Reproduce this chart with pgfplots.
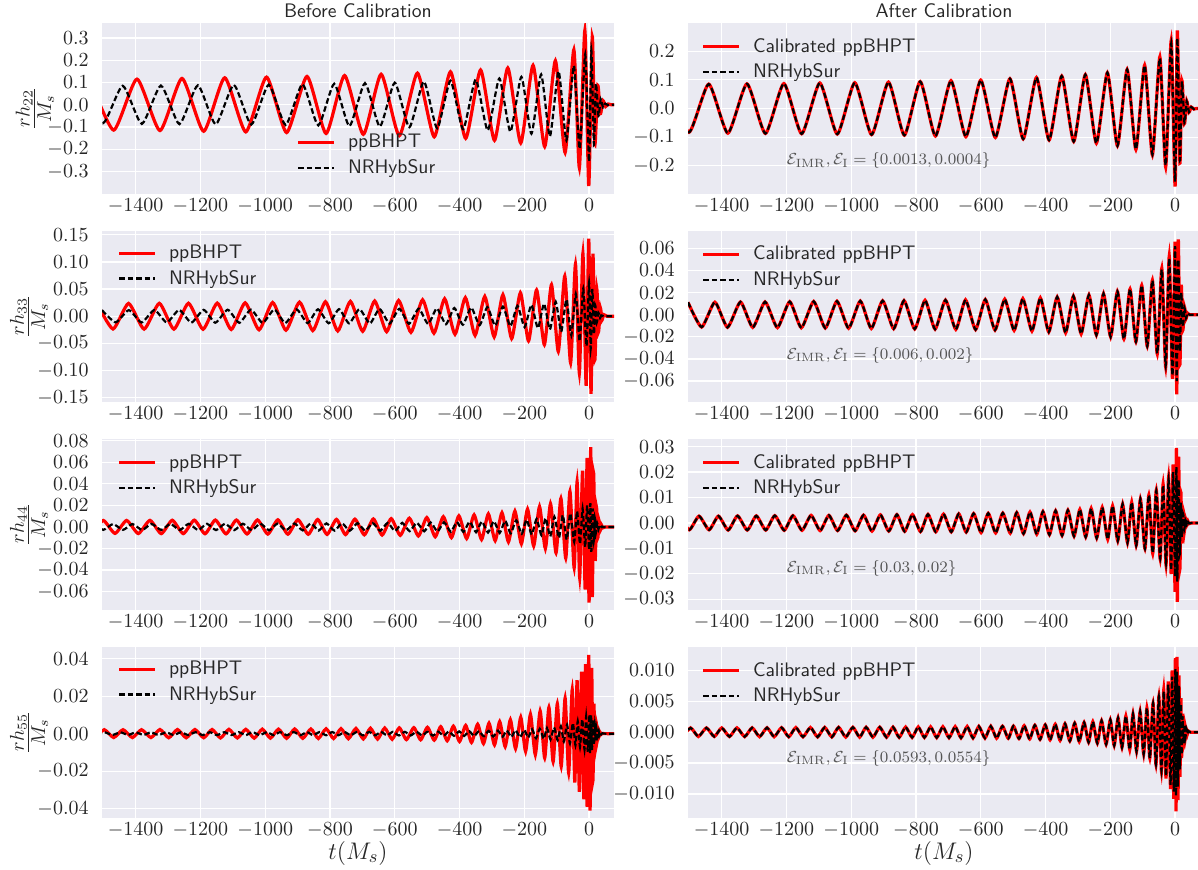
\documentclass[border=0pt]{standalone}
\usepackage{pgfplots}
\usepackage{pgfplotstable}
\pgfplotsset{compat=1.18}
\definecolor{bgc}{HTML}{EAEAF2}
\definecolor{tickc}{HTML}{262626}
\definecolor{annc}{HTML}{555555}

% ---------- l=2 ----------
\pgfplotstableread{
t nr cal
-1561 0.083 0.083
-1501 -0.083 -0.083
-1440 0.085 0.085
-1381 -0.086 -0.086
-1322 0.086 0.086
-1265 -0.087 -0.087
-1208 0.087 0.087
-1153 -0.088 -0.088
-1097 0.089 0.089
-1043 -0.089 -0.089
-989 0.090 0.090
-937 -0.091 -0.091
-885 0.092 0.092
-836 -0.093 -0.093
-787 0.094 0.094
-740 -0.096 -0.096
-692 0.097 0.097
-646 -0.098 -0.098
-600 0.099 0.099
-555 -0.101 -0.101
-510 0.104 0.104
-469 -0.106 -0.106
-428 0.108 0.108
-389 -0.110 -0.110
-350 0.113 0.113
-313 -0.115 -0.115
-277 0.118 0.118
-243 -0.121 -0.121
-209 0.125 0.125
-178 -0.130 -0.130
-148 0.136 0.136
-121 -0.142 -0.143
-94 0.150 0.151
-70 -0.160 -0.162
-47 0.175 0.180
-29 -0.198 -0.204
-12 0.226 0.237
0 -0.255 -0.272
7 0.245 0.272
15 -0.180 -0.190
21 0.095 0.098
29 -0.050 -0.052
36 0.025 0.026
43 -0.012 -0.013
50 0.005 0.005
58 -0.002 -0.002
66 0 0
90 0 0
}\hTwo

\pgfplotstableread{
t pp
-1541 0.113
-1468 -0.114
-1396 0.115
-1325 -0.116
-1257 0.118
-1190 -0.119
-1125 0.121
-1060 -0.122
-996 0.124
-934 -0.125
-871 0.127
-812 -0.129
-755 0.131
-697 -0.133
-642 0.137
-586 -0.139
-530 0.142
-478 -0.144
-428 0.148
-381 -0.151
-335 0.156
-292 -0.160
-251 0.165
-211 -0.172
-173 0.177
-137 -0.188
-104 0.198
-74 -0.215
-47 0.247
-30 -0.283
-13 0.334
-1 -0.365
10 0.305
18 -0.177
27 0.086
35 -0.040
43 0.018
51 -0.008
59 0.003
68 0
90 0
}\hTwoPP

% ---------- l=3 ----------
\pgfplotstableread{
t nr cal
-1504 0.0112 0.0112
-1462 -0.0112 -0.0112
-1421 0.0113 0.0113
-1382 -0.0114 -0.0114
-1342 0.0115 0.0115
-1304 -0.0115 -0.0115
-1266 0.0116 0.0116
-1228 -0.0117 -0.0117
-1190 0.0118 0.0118
-1154 -0.0119 -0.0119
-1116 0.0120 0.0120
-1080 -0.0121 -0.0121
-1044 0.0122 0.0122
-1008 -0.0123 -0.0123
-972 0.0124 0.0124
-938 -0.0125 -0.0125
-903 0.0126 0.0126
-869 -0.0127 -0.0127
-837 0.0128 0.0128
-804 -0.0129 -0.0129
-772 0.0130 0.0130
-741 -0.0131 -0.0131
-709 0.0132 0.0132
-677 -0.0133 -0.0133
-647 0.0134 0.0134
-616 -0.0135 -0.0135
-586 0.0137 0.0137
-556 -0.0139 -0.0139
-526 0.0140 0.0140
-497 -0.0142 -0.0142
-470 0.0145 0.0145
-442 -0.0148 -0.0148
-416 0.0152 0.0152
-390 -0.0156 -0.0156
-364 0.0160 0.0160
-338 -0.0164 -0.0164
-314 0.0168 0.0168
-290 -0.0173 -0.0173
-266 0.0178 0.0178
-243 -0.0183 -0.0183
-221 0.0190 0.0190
-199 -0.0200 -0.0200
-178 0.0210 0.0210
-158 -0.0220 -0.0220
-139 0.0232 0.0232
-121 -0.0245 -0.0245
-103 0.0265 0.0265
-86 -0.0285 -0.0285
-70 0.0310 0.0312
-55 -0.0350 -0.0355
-41 0.0410 0.0420
-29 -0.0460 -0.0475
-18 0.0510 0.0530
-8 -0.0550 -0.0580
0 0.0620 0.0660
5 -0.0600 -0.0720
10 0.0500 0.0680
15 -0.0330 -0.0450
19 0.0200 0.0270
24 -0.0110 -0.0140
29 0.0060 0.0070
34 -0.0030 -0.0035
38 0.0015 0.0015
45 0 0
90 0 0
}\hThree

\pgfplotstableread{
t pp
-1519 0.0235
-1470 -0.0235
-1422 0.0236
-1374 -0.0237
-1327 0.0238
-1282 -0.0238
-1237 0.0239
-1192 -0.0240
-1148 0.0242
-1105 -0.0244
-1062 0.0247
-1019 -0.0250
-977 0.0254
-936 -0.0257
-894 0.0261
-853 -0.0264
-814 0.0267
-776 -0.0271
-737 0.0274
-699 -0.0277
-662 0.0281
-625 -0.0285
-588 0.0290
-550 -0.0296
-514 0.0303
-479 -0.0312
-446 0.0322
-414 -0.0332
-382 0.0342
-352 -0.0353
-322 0.0365
-293 -0.0380
-266 0.0396
-239 -0.0412
-212 0.0432
-187 -0.0455
-162 0.0485
-138 -0.0525
-116 0.0580
-95 -0.0650
-75 0.0740
-57 -0.0860
-42 0.0960
-30 -0.1050
-19 0.1160
-9 -0.1280
-1 0.1430
6 -0.1430
12 0.1150
18 -0.0800
24 0.0500
29 -0.0290
35 0.0150
40 -0.0070
45 0.0030
55 0
90 0
}\hThreePP

% ---------- l=4 ----------
\pgfplotstableread{
t nr cal
-1530 0.0027 0.0027
-1500 -0.0027 -0.0027
-1470 0.0027 0.0027
-1439 -0.0027 -0.0027
-1410 0.0027 0.0027
-1380 -0.0028 -0.0028
-1351 0.0028 0.0028
-1321 -0.0028 -0.0028
-1293 0.0028 0.0028
-1264 -0.0028 -0.0028
-1236 0.0029 0.0029
-1207 -0.0029 -0.0029
-1180 0.0029 0.0029
-1152 -0.0029 -0.0029
-1124 0.0030 0.0030
-1096 -0.0030 -0.0030
-1069 0.0030 0.0030
-1042 -0.0030 -0.0030
-1015 0.0031 0.0031
-988 -0.0031 -0.0031
-962 0.0031 0.0031
-936 -0.0032 -0.0032
-910 0.0032 0.0032
-884 -0.0032 -0.0032
-859 0.0033 0.0033
-835 -0.0033 -0.0033
-811 0.0033 0.0033
-786 -0.0034 -0.0034
-763 0.0034 0.0034
-739 -0.0035 -0.0035
-715 0.0035 0.0035
-691 -0.0035 -0.0035
-668 0.0036 0.0036
-645 -0.0036 -0.0036
-622 0.0037 0.0037
-599 -0.0038 -0.0038
-577 0.0038 0.0038
-554 -0.0039 -0.0039
-532 0.0039 0.0039
-509 -0.0040 -0.0040
-489 0.0041 0.0041
-468 -0.0042 -0.0042
-448 0.0043 0.0043
-427 -0.0044 -0.0044
-408 0.0045 0.0045
-388 -0.0046 -0.0046
-369 0.0048 0.0048
-349 -0.0049 -0.0049
-331 0.0050 0.0050
-312 -0.0052 -0.0052
-294 0.0053 0.0053
-276 -0.0055 -0.0055
-259 0.0057 0.0057
-242 -0.0059 -0.0059
-225 0.0061 0.0061
-208 -0.0064 -0.0064
-193 0.0067 0.0067
-177 -0.0070 -0.0070
-162 0.0074 0.0074
-147 -0.0077 -0.0077
-134 0.0081 0.0081
-120 -0.0088 -0.0088
-107 0.0094 0.0094
-93 -0.0101 -0.0101
-81 0.0110 0.0110
-69 -0.0118 -0.0120
-58 0.0126 0.0130
-46 -0.0138 -0.0142
-37 0.0147 0.0153
-28 -0.0158 -0.0165
-20 0.0170 0.0180
-12 -0.0185 -0.0200
-6 0.0200 0.0230
0 -0.0210 -0.0270
4 0.0220 0.0295
7 -0.0230 -0.0310
11 0.0170 0.0260
15 -0.0120 -0.0180
18 0.0080 0.0120
21 -0.0055 -0.0080
25 0.0035 0.0050
29 -0.0020 -0.0030
32 0.0012 0.0018
36 -0.0007 -0.0010
40 0.0004 0.0006
43 -0.0002 -0.0003
50 0 0
90 0 0
}\hFour

\pgfplotstableread{
t pp
-1534 -0.0060
-1500 0.0060
-1464 -0.0060
-1428 0.0060
-1392 -0.0061
-1356 0.0061
-1321 -0.0062
-1287 0.0062
-1253 -0.0062
-1219 0.0063
-1186 -0.0063
-1154 0.0064
-1121 -0.0064
-1089 0.0064
-1056 -0.0065
-1024 0.0065
-992 -0.0066
-961 0.0066
-930 -0.0067
-899 0.0067
-867 -0.0068
-838 0.0069
-809 -0.0069
-780 0.0070
-752 -0.0071
-723 0.0072
-694 -0.0073
-666 0.0074
-639 -0.0075
-611 0.0077
-583 -0.0078
-555 0.0081
-527 -0.0084
-501 0.0087
-475 -0.0091
-450 0.0095
-425 -0.0099
-402 0.0103
-378 -0.0108
-355 0.0112
-332 -0.0117
-311 0.0121
-290 -0.0127
-269 0.0132
-249 -0.0139
-229 0.0147
-209 -0.0156
-190 0.0165
-171 -0.0176
-153 0.0188
-135 -0.0200
-119 0.0215
-102 -0.0240
-87 0.0265
-72 -0.0290
-59 0.0330
-46 -0.0380
-37 0.0420
-29 -0.0470
-20 0.0520
-12 -0.0580
-6 0.0640
0 -0.0700
5 0.0740
10 -0.0650
14 0.0500
19 -0.0300
23 0.0180
27 -0.0100
31 0.0055
35 -0.0030
39 0.0015
43 -0.0008
50 0
90 0
}\hFourPP

% ---------- l=5 ----------
\pgfplotstableread{
t nr cal
-1520 -0.0007 -0.0007
-1496 0.0007 0.0007
-1472 -0.0007 -0.0007
-1447 0.0007 0.0007
-1423 -0.0007 -0.0007
-1400 0.0007 0.0007
-1376 -0.00071 -0.00071
-1353 0.00071 0.00071
-1329 -0.00072 -0.00072
-1306 0.00072 0.00072
-1283 -0.00073 -0.00073
-1260 0.00073 0.00073
-1238 -0.00074 -0.00074
-1215 0.00074 0.00074
-1193 -0.00075 -0.00075
-1171 0.00076 0.00076
-1149 -0.00076 -0.00076
-1126 0.00077 0.00077
-1104 -0.00077 -0.00077
-1082 0.00078 0.00078
-1060 -0.00078 -0.00078
-1039 0.00079 0.00079
-1017 -0.00079 -0.00079
-995 0.00080 0.00080
-974 -0.00080 -0.00080
-954 0.00081 0.00081
-933 -0.00081 -0.00081
-912 0.00082 0.00082
-891 -0.00082 -0.00082
-871 0.00083 0.00083
-852 -0.00084 -0.00084
-832 0.00084 0.00084
-812 -0.00085 -0.00085
-793 0.00085 0.00085
-774 -0.00086 -0.00086
-755 0.00087 0.00087
-736 -0.00088 -0.00088
-717 0.00089 0.00089
-698 -0.00090 -0.00090
-679 0.00091 0.00091
-661 -0.00092 -0.00092
-642 0.00093 0.00093
-624 -0.00094 -0.00094
-606 0.00095 0.00095
-587 -0.00096 -0.00096
-569 0.00097 0.00097
-551 -0.00098 -0.00098
-533 0.00098 0.00098
-515 -0.00099 -0.00099
-499 0.00100 0.00100
-482 -0.00103 -0.00103
-466 0.00106 0.00106
-449 -0.00110 -0.00110
-433 0.00113 0.00113
-417 -0.00116 -0.00116
-401 0.00120 0.00120
-386 -0.00124 -0.00124
-370 0.00129 0.00129
-355 -0.00133 -0.00133
-340 0.00138 0.00138
-325 -0.00142 -0.00142
-310 0.00147 0.00147
-296 -0.00152 -0.00152
-281 0.00158 0.00158
-267 -0.00163 -0.00163
-254 0.00170 0.00170
-240 -0.00178 -0.00178
-227 0.00186 0.00186
-213 -0.00195 -0.00195
-200 0.00200 0.00200
-188 -0.00215 -0.00215
-176 0.00230 0.00230
-164 -0.00245 -0.00245
-152 0.00260 0.00260
-140 -0.00280 -0.00280
-130 0.00295 0.00295
-119 -0.00310 -0.00310
-108 0.00330 0.00330
-97 -0.00350 -0.00350
-87 0.00390 0.00390
-78 -0.00420 -0.00420
-68 0.00470 0.00470
-59 -0.00520 -0.00525
-50 0.00570 0.00580
-42 -0.00620 -0.00635
-35 0.00660 0.00685
-28 -0.00710 -0.00750
-21 0.00770 0.00820
-14 -0.00850 -0.00920
-9 0.00900 0.01000
-4 -0.00960 -0.01080
1 0.01020 0.01200
3 -0.01030 -0.01280
6 0.00980 0.01220
9 -0.00880 -0.01100
12 0.00750 0.00920
15 -0.00600 -0.00720
18 0.00460 0.00550
20 -0.00360 -0.00420
23 0.00260 0.00300
26 -0.00180 -0.00200
30 0.00120 0.00130
32 -0.00080 -0.00090
35 0.00050 0.00050
38 -0.00030 -0.00030
41 0.00020 0.00020
48 0 0
90 0 0
}\hFive

\pgfplotstableread{
t pp
-1525 -0.0021
-1497 0.0021
-1468 -0.0021
-1439 0.0021
-1410 -0.0021
-1382 0.0021
-1353 -0.0021
-1325 0.0022
-1298 -0.0022
-1271 0.0022
-1244 -0.0022
-1217 0.0022
-1190 -0.0022
-1164 0.0022
-1138 -0.0023
-1112 0.0023
-1086 -0.0023
-1060 0.0023
-1034 -0.0024
-1009 0.0024
-984 -0.0024
-959 0.0024
-934 -0.0025
-909 0.0025
-884 -0.0025
-859 0.0025
-836 -0.0026
-812 0.0026
-789 -0.0026
-766 0.0027
-743 -0.0027
-720 0.0028
-697 -0.0028
-675 0.0029
-653 -0.0029
-631 0.0030
-608 -0.0030
-586 0.0031
-564 -0.0032
-541 0.0032
-520 -0.0033
-499 0.0034
-478 -0.0035
-458 0.0037
-438 -0.0038
-419 0.0040
-400 -0.0042
-381 0.0044
-363 -0.0047
-344 0.0050
-326 -0.0053
-309 0.0056
-292 -0.0060
-276 0.0064
-259 -0.0069
-243 0.0074
-227 -0.0080
-211 0.0087
-196 -0.0095
-181 0.0103
-166 -0.0112
-151 0.0121
-137 -0.0130
-124 0.0140
-111 -0.0150
-98 0.0160
-86 -0.0175
-74 0.0190
-63 -0.0210
-52 0.0235
-44 -0.0260
-37 0.0285
-30 -0.0310
-23 0.0330
-16 -0.0350
-11 0.0370
-6 -0.0390
-1 0.0420
3 -0.0410
8 0.0350
12 -0.0250
15 0.0160
18 -0.0100
22 0.0060
25 -0.0040
29 0.0020
32 -0.0010
35 0.0005
38 -0.0003
41 0.0001
48 0
90 0
}\hFivePP

\pgfplotsset{
  wf/.style={
    scale only axis, width=256pt, height=85.5pt,
    xmin=-1504, xmax=77,
    axis background/.style={fill=bgc},
    axis line style={draw=none},
    tick style={draw=none},
    major tick length=0pt,
    grid=major, grid style={white, line width=0.6pt},
    xtick={-1400,-1200,-1000,-800,-600,-400,-200,0},
    xticklabels={$-1400$,$-1200$,$-1000$,$-800$,$-600$,$-400$,$-200$,$0$},
    tick label style={font=\fontsize{10}{12}\selectfont, text=tickc},
    xticklabel style={anchor=north, inner sep=0pt, yshift=-2pt},
    yticklabel style={anchor=east, inner sep=0pt, xshift=-6.5pt,
      /pgf/number format/fixed, /pgf/number format/fixed zerofill},
    scaled y ticks=false,
    ylabel style={font=\fontsize{14}{16}\selectfont, text=tickc,
      at={(axis description cs:-0.1426,0.5)}, anchor=center},
    title style={font=\sffamily\fontsize{9.8}{11.5}\selectfont, text=tickc,
      at={(0.5,1)}, anchor=center, yshift=0pt},
    xlabel style={font=\fontsize{13}{15}\selectfont, text=tickc,
      at={(axis description cs:0.5,0)}, anchor=center, yshift=-17.5pt},
    legend style={draw=none, fill=none, font=\sffamily\fontsize{9.8}{11.5}\selectfont,
      text=tickc, inner sep=0pt, outer sep=0pt, row sep=4.3pt,
      nodes={inner sep=0pt}, anchor=north west,
      /tikz/every odd column/.append style={column sep=6pt}},
    legend cell align=left,
    legend image code/.code={\draw[##1] (0pt,0pt) -- (18pt,0pt);},
  },
  ppline/.style={color=red, line width=1.6pt, smooth, tension=0.36},
  nrline/.style={color=black, line width=1.1pt, dash pattern=on 2.8pt off 1.4pt, smooth, tension=0.36},
}
\tikzset{annot/.style={anchor=west, inner sep=0pt, text=annc, font=\fontsize{8}{10}\selectfont}}

\begin{document}
\begin{tikzpicture}
\useasboundingbox (0,0) rectangle (599pt,-434.5pt);

% ===== Row 1 =====
\begin{axis}[wf, at={(51pt,-11.5pt)}, anchor=north west,
  ymin=-0.401, ymax=0.367, ytick={-0.3,-0.2,-0.1,0,0.1,0.2,0.3},
  yticklabel style={/pgf/number format/precision=1},
  ylabel={$\frac{rh_{22}}{M_s}$}, ylabel style={at={(axis description cs:-0.131,0.5)}},
  title={Before Calibration},
  legend style={at={(0.3805,0.35)}}]
\addplot[ppline] table[x=t,y=pp]{\hTwoPP};
\addlegendentry{ppBHPT}
\addplot[nrline] table[x=t,y=nr]{\hTwo};
\addlegendentry{NRHybSur}
\end{axis}

\begin{axis}[wf, at={(344pt,-11.5pt)}, anchor=north west,
  ymin=-0.298, ymax=0.298, ytick={-0.2,-0.1,0,0.1,0.2},
  yticklabel style={/pgf/number format/precision=1},
  title={After Calibration},
  legend style={at={(0.027,0.91)}}]
\addplot[ppline] table[x=t,y=cal]{\hTwo};
\addlegendentry{Calibrated ppBHPT}
\addplot[nrline] table[x=t,y=nr]{\hTwo};
\addlegendentry{NRHybSur}
\node[annot] at (axis cs:-1200,-0.182) {$\mathcal{E}_{\mathrm{IMR}}, \mathcal{E}_{\mathrm{I}} = \{0.0013, 0.0004\}$};
\end{axis}

% ===== Row 2 =====
\begin{axis}[wf, at={(51pt,-115.5pt)}, anchor=north west,
  ymin=-0.158, ymax=0.157, ytick={-0.15,-0.1,-0.05,0,0.05,0.1,0.15},
  yticklabel style={/pgf/number format/precision=2},
  ylabel={$\frac{rh_{33}}{M_s}$},
  legend style={at={(0.031,0.919)}}]
\addplot[ppline] table[x=t,y=pp]{\hThreePP};
\addlegendentry{ppBHPT}
\addplot[nrline] table[x=t,y=nr]{\hThree};
\addlegendentry{NRHybSur}
\end{axis}

\begin{axis}[wf, at={(344pt,-115.5pt)}, anchor=north west,
  ymin=-0.079, ymax=0.0757, ytick={-0.06,-0.04,-0.02,0,0.02,0.04,0.06},
  yticklabel style={/pgf/number format/precision=2},
  legend style={at={(0.027,0.913)}}]
\addplot[ppline] table[x=t,y=cal]{\hThree};
\addlegendentry{Calibrated ppBHPT}
\addplot[nrline] table[x=t,y=nr]{\hThree};
\addlegendentry{NRHybSur}
\node[annot] at (axis cs:-1200,-0.0365) {$\mathcal{E}_{\mathrm{IMR}}, \mathcal{E}_{\mathrm{I}} = \{0.006, 0.002\}$};
\end{axis}

% ===== Row 3 =====
\begin{axis}[wf, at={(51pt,-219.5pt)}, anchor=north west,
  ymin=-0.077, ymax=0.0815, ytick={-0.06,-0.04,-0.02,0,0.02,0.04,0.06,0.08},
  yticklabel style={/pgf/number format/precision=2},
  ylabel={$\frac{rh_{44}}{M_s}$},
  legend style={at={(0.031,0.91)}}]
\addplot[ppline] table[x=t,y=pp]{\hFourPP};
\addlegendentry{ppBHPT}
\addplot[nrline] table[x=t,y=nr]{\hFour};
\addlegendentry{NRHybSur}
\end{axis}

\begin{axis}[wf, at={(344pt,-219.5pt)}, anchor=north west,
  ymin=-0.0342, ymax=0.033, ytick={-0.03,-0.02,-0.01,0,0.01,0.02,0.03},
  yticklabel style={/pgf/number format/precision=2},
  legend style={at={(0.027,0.91)}}]
\addplot[ppline] table[x=t,y=cal]{\hFour};
\addlegendentry{Calibrated ppBHPT}
\addplot[nrline] table[x=t,y=nr]{\hFour};
\addlegendentry{NRHybSur}
\node[annot] at (axis cs:-1200,-0.0178) {$\mathcal{E}_{\mathrm{IMR}}, \mathcal{E}_{\mathrm{I}} = \{0.03, 0.02\}$};
\end{axis}

% ===== Row 4 =====
\begin{axis}[wf, at={(51pt,-323.5pt)}, anchor=north west,
  ymin=-0.045, ymax=0.0462, ytick={-0.04,-0.02,0,0.02,0.04},
  yticklabel style={/pgf/number format/precision=2},
  ylabel={$\frac{rh_{55}}{M_s}$}, xlabel={$t(M_s)$},
  legend style={at={(0.031,0.919)}}]
\addplot[ppline] table[x=t,y=pp]{\hFivePP};
\addlegendentry{ppBHPT}
\addplot[nrline] table[x=t,y=nr]{\hFive};
\addlegendentry{NRHybSur}
\end{axis}

\begin{axis}[wf, at={(344pt,-323.5pt)}, anchor=north west,
  ymin=-0.0139, ymax=0.0138, ytick={-0.01,-0.005,0,0.005,0.01},
  yticklabel style={/pgf/number format/precision=3},
  xlabel={$t(M_s)$},
  legend style={at={(0.027,0.91)}}]
\addplot[ppline] table[x=t,y=cal]{\hFive};
\addlegendentry{Calibrated ppBHPT}
\addplot[nrline] table[x=t,y=nr]{\hFive};
\addlegendentry{NRHybSur}
\node[annot] at (axis cs:-1200,-0.0042) {$\mathcal{E}_{\mathrm{IMR}}, \mathcal{E}_{\mathrm{I}} = \{0.0593, 0.0554\}$};
\end{axis}
\end{tikzpicture}
\end{document}
